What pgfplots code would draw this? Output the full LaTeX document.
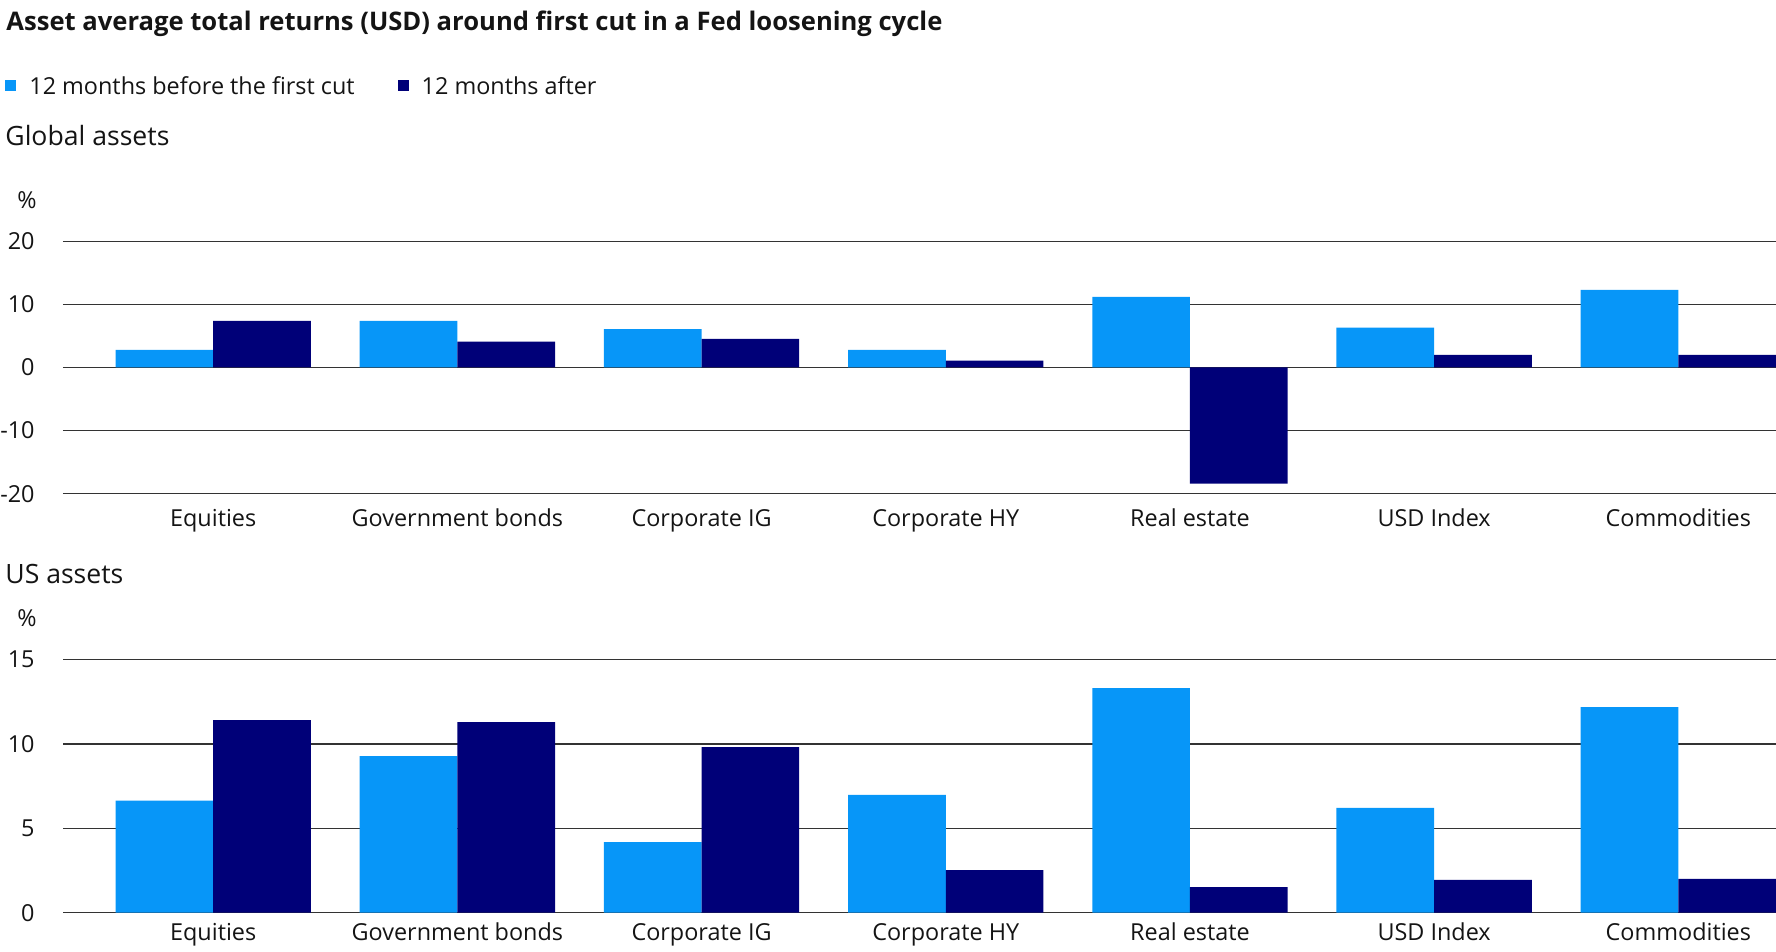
\documentclass[border=0pt]{standalone}
\usepackage{fontspec}
\setmainfont{Open Sans}
\usepackage{pgfplots}
\pgfplotsset{compat=1.18}
\definecolor{lblue}{RGB}{7,150,248}
\definecolor{navy}{RGB}{0,0,120}
\definecolor{txt}{RGB}{20,20,20}
\newcommand{\lab}{\fontsize{11.7}{14}\selectfont}

\begin{document}
\begin{tikzpicture}
\useasboundingbox (0,0) rectangle (888pt,476pt);
\pgfplotsset{
  sq legend/.style={legend image code/.code={\fill[##1] (0pt,-2.75pt) rectangle (5.5pt,2.75pt); \path[draw=none, fill=none] (0pt,-1pt) rectangle (12pt,1pt);}},
  mybar/.style={
    scale only axis, width=856.5pt,
    ybar, bar width=0.4,
    xmin=-0.615, xmax=6.4,
    xtick={0,1,2,3,4,5,6},
    xticklabels={Equities, Government bonds, Corporate IG, Corporate HY, Real estate, USD Index, Commodities},
    axis line style={draw=none}, major tick length=0pt, tick style={draw=none},
    ymajorgrids, grid style={black!80, line width=0.6pt},
    tick label style={font=\lab, text=txt},
    yticklabel style={anchor=east, inner sep=0pt, xshift=-14pt},
    xticklabel style={anchor=base, inner sep=0pt},
    anchor=south west,
  }
}
\begin{axis}[mybar, at={(31.5pt,229.15pt)}, height=126.2pt,
  ymin=-20, ymax=20, ytick={-20,-10,0,10,20}, yticklabels={-20,-10,0,10,20},
  xticklabel style={yshift=-16.5pt},
  legend columns=2,
  legend style={draw=none, fill=none, at={(axis description cs:0,1)}, anchor=west,
    xshift=-29pt, yshift=77.7pt, font=\lab, text=txt,
    inner xsep=0pt, inner ysep=0pt,
    nodes={inner sep=0pt, text depth=0pt}, cells={anchor=west}, column sep=0pt,
    /tikz/every even column/.append style={column sep=21.5pt}},
]
\addplot[fill=lblue, draw=none, bar shift=-0.2, sq legend] coordinates {(0,2.8) (1,7.4) (2,6.1) (3,2.8) (4,11.2) (5,6.3) (6,12.3)};
\addplot[fill=navy, draw=none, bar shift=0.2, sq legend] coordinates {(0,7.4) (1,4.1) (2,4.55) (3,1.1) (4,-18.4) (5,2.0) (6,2.0)};
\legend{12 months before the first cut, 12 months after}
\end{axis}

\begin{axis}[mybar, at={(31.5pt,19.65pt)}, height=126.5pt,
  ymin=0, ymax=15, ytick={0,5,10,15}, yticklabels={0,5,10,15},
  xticklabel style={yshift=-13.7pt},
]
\addplot[fill=lblue, draw=none, bar shift=-0.2] coordinates {(0,6.64) (1,9.29) (2,4.19) (3,6.98) (4,13.32) (5,6.21) (6,12.19)};
\addplot[fill=navy, draw=none, bar shift=0.2] coordinates {(0,11.42) (1,11.30) (2,9.82) (3,2.53) (4,1.52) (5,1.94) (6,2.0)};
\end{axis}

\node[anchor=base west, inner sep=0pt, text=txt, font=\bfseries\fontsize{12.8}{15}\selectfont] at (3pt,460.7pt) {Asset average total returns (USD) around first cut in a Fed loosening cycle};
\node[anchor=base west, inner sep=0pt, text=txt, font=\fontsize{13.3}{16}\selectfont] at (2.5pt,403.2pt) {Global assets};
\node[anchor=base west, inner sep=0pt, text=txt, font=\fontsize{13.3}{16}\selectfont] at (2.5pt,184pt) {US assets};
\node[anchor=base west, inner sep=0pt, text=txt, font=\lab] at (8.5pt,371.5pt) {\%};
\node[anchor=base west, inner sep=0pt, text=txt, font=\lab] at (8.5pt,162.5pt) {\%};
\end{tikzpicture}
\end{document}
